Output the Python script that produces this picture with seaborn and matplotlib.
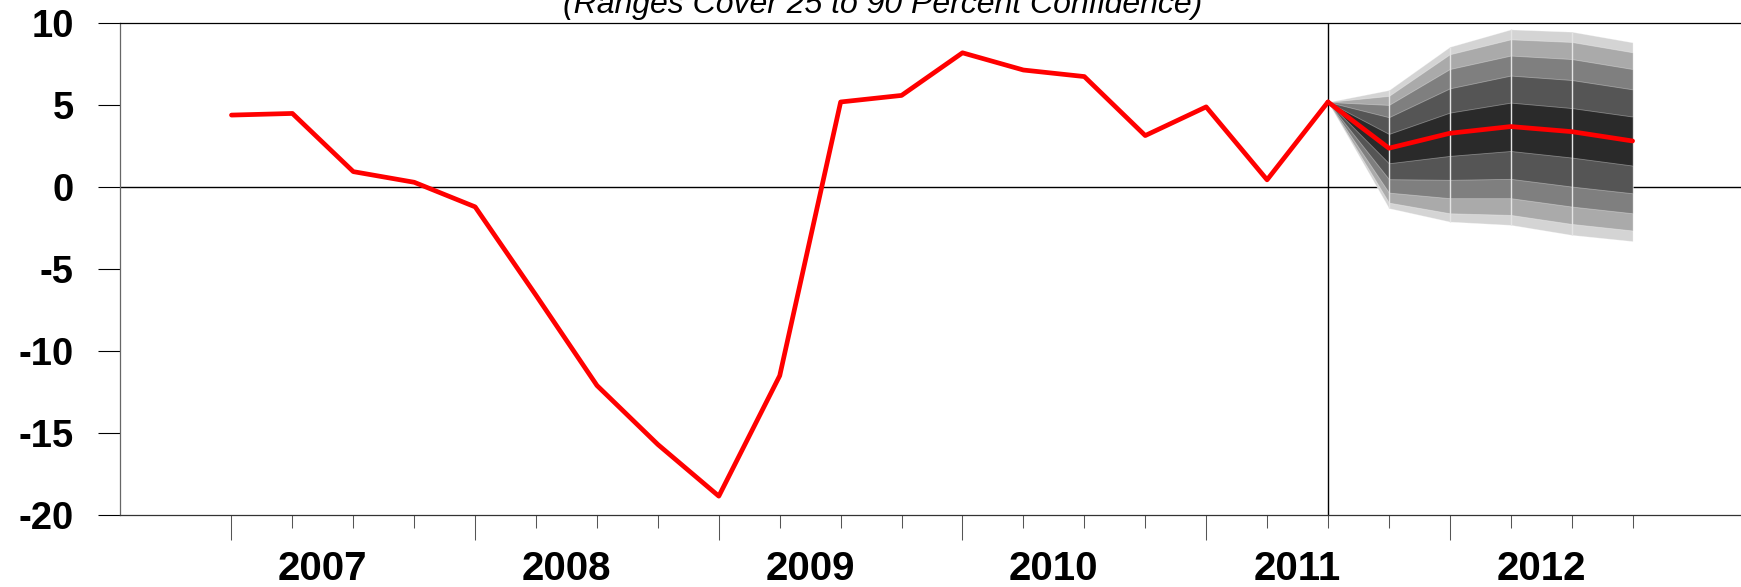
import numpy as np
import pandas as pd
import matplotlib
matplotlib.use('Agg')
import matplotlib.pyplot as plt
import matplotlib.transforms as mtransforms
import seaborn as sns

# history: quarterly, 2007Q1 .. 2011Q3
hist_quarters = pd.period_range('2007Q1', '2011Q3', freq='Q')
hist_values = [4.4, 4.5, 0.95, 0.3, -1.2, -6.6, -12.1, -15.7, -18.85, -11.5,
               5.2, 5.6, 8.2, 7.15, 6.75, 3.15, 4.9, 0.45, 5.2]

# fan chart: 2011Q3 (start) .. 2012Q4
fan_quarters = pd.period_range('2011Q3', '2012Q4', freq='Q')
hi_5 = [5.2, 5.93, 8.57, 9.63, 9.49, 8.84]
hi_4 = [5.2, 5.57, 8.11, 9.02, 8.86, 8.23]
hi_3 = [5.2, 5.02, 7.21, 8.03, 7.82, 7.21]
hi_2 = [5.2, 4.27, 6.03, 6.81, 6.54, 5.97]
hi_1 = [5.2, 3.25, 4.55, 5.16, 4.83, 4.31]
median = [5.2, 2.38, 3.29, 3.70, 3.39, 2.82]
lo_1 = [5.2, 1.46, 1.91, 2.21, 1.81, 1.32]
lo_2 = [5.2, 0.49, 0.45, 0.51, 0.04, -0.37]
lo_3 = [5.2, -0.33, -0.67, -0.67, -1.18, -1.59]
lo_4 = [5.2, -0.94, -1.59, -1.69, -2.24, -2.64]
lo_5 = [5.2, -1.28, -2.10, -2.30, -2.91, -3.29]
band_colors = ['#d4d4d4', '#aaaaaa', '#7f7f7f', '#555555', '#2a2a2a']

years = [2007, 2008, 2009, 2010, 2011, 2012]
title = '(Ranges Cover 25 to 90 Percent Confidence)'


def to_x(periods):
    return np.array([p.year + (p.quarter - 1) / 4 for p in periods])


hist = pd.DataFrame({'x': to_x(hist_quarters), 'value': hist_values})
fan_x = to_x(fan_quarters)

sns.set_style('white')
plt.rcParams['font.family'] = ['Liberation Sans', 'DejaVu Sans']
plt.rcParams['text.color'] = 'black'
plt.rcParams['ytick.labelcolor'] = 'black'

fig = plt.figure(figsize=(17.41, 5.87), dpi=100)
ax = fig.add_axes([120 / 1741, 1 - 515 / 587, 1 - 120 / 1741, (515 - 23.3) / 587])

ax.axhline(0, color='black', lw=1, zorder=1)
ax.axvline(hist['x'].iloc[-1], color='black', lw=1, zorder=1)

uppers = [hi_5, hi_4, hi_3, hi_2, hi_1]
lowers = [lo_5, lo_4, lo_3, lo_2, lo_1]
for up, lo, c in zip(uppers, lowers, band_colors):
    ax.fill_between(fan_x, lo, up, facecolor=c, edgecolor=(1, 1, 1, 0.35),
                    lw=0.6, zorder=2)
ax.vlines(fan_x[1:-1], lo_5[1:-1], hi_5[1:-1], color='#e4e4e4', lw=1, zorder=2.5)

sns.lineplot(data=hist, x='x', y='value', color='red', lw=3.4, ax=ax, zorder=3)
sns.lineplot(x=fan_x, y=median, color='red', lw=3.4, ax=ax, zorder=3)

ax.set_xlim(2007 - 1.83 / 4, 2007 + 24.78 / 4)
ax.set_ylim(-20, 10)
ax.set_yticks(np.arange(-20, 11, 5))
ax.set_yticklabels([str(v) for v in range(-20, 11, 5)], fontsize=27.5,
                   fontweight='bold', color='black')
ax.set_xticks(years)
ax.set_xticks([y + q / 4 for y in years for q in (1, 2, 3)], minor=True)
ax.set_xticklabels([])
ax.set_xlabel('')
ax.set_ylabel('')

ax.tick_params(axis='y', direction='out', length=15.8, width=0.8,
               color='black', pad=17.5, left=True)
ax.tick_params(axis='x', which='major', direction='out', length=18,
               width=0.75, color='#555555', bottom=True)
ax.tick_params(axis='x', which='minor', direction='out', length=9.4,
               width=0.75, color='#555555', bottom=True)

for side in ['left', 'top', 'bottom']:
    ax.spines[side].set_visible(True)
    ax.spines[side].set_linewidth(0.9)
ax.spines['left'].set_color('#666666')
ax.spines['top'].set_color('black')
ax.spines['bottom'].set_color('#333333')
ax.spines['right'].set_visible(False)

trans = mtransforms.blended_transform_factory(ax.transData, fig.transFigure)
for y in years:
    ax.text(y + 0.375, 7 / 587, str(y), transform=trans, ha='center',
            va='baseline', fontsize=29, fontweight='bold', color='black')

fig.text(883 / 1741, 1 - 13.5 / 587, title, ha='center', va='baseline',
         fontsize=23, fontstyle='italic', color='black')

fig.savefig('out.png', dpi=100)
